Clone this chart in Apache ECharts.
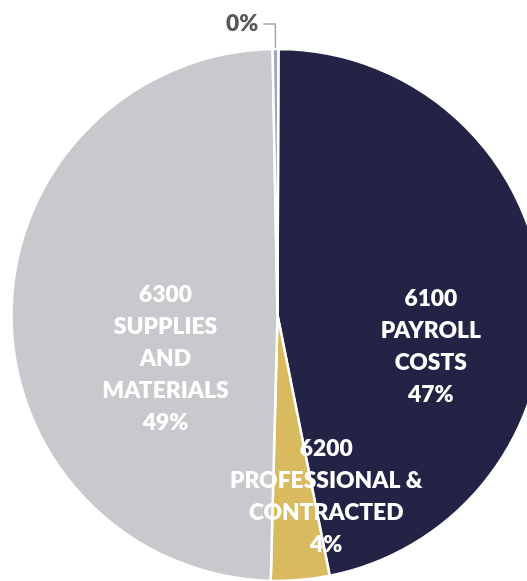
<!DOCTYPE html>
<html>
<head>
<meta charset="utf-8">
<script src="https://cdn.jsdelivr.net/npm/echarts@6/dist/echarts.min.js"></script>
<style>
html,body{margin:0;padding:0;background:#fff;}
#chart{width:527px;height:581px;}
</style>
</head>
<body>
<div id="chart"></div>
<script>
// Data
const categories = ['6100\nPAYROLL\nCOSTS', '6200\nPROFESSIONAL &\nCONTRACTED', '6300\nSUPPLIES\nAND\nMATERIALS', '6400\nOTHER'];
const values = [46.8, 3.55, 49.3, 0.35];
const showCategory = [true, true, true, false];
const colors = ['#232345', '#D9BA5E', '#C8C9CD', '#A3A6B8'];

const labelOffsets = [[18, 45], [37, 46], [24, 44], [0, 0]];

const data = categories.map((c, i) => {
  const item = {
    name: c,
    value: values[i],
    itemStyle: { color: colors[i] }
  };
  if (showCategory[i]) {
    item.label = { position: 'inside', offset: labelOffsets[i], color: '#ffffff' };
    item.labelLine = { show: false };
  } else {
    item.label = {
      position: 'outside',
      color: '#595959',
      padding: [0, 0, 24, 0],
      distanceToLabelLine: 5
    };
    item.labelLine = {
      show: true,
      length: 25,
      length2: 12,
      lineStyle: { color: '#A6A6A6', width: 1.5 }
    };
  }
  return item;
});

const chart = echarts.init(document.getElementById('chart'), null, { renderer: 'canvas' });
chart.setOption({
  animation: false,
  series: [{
    type: 'pie',
    center: [277.5, 315],
    radius: 266,
    startAngle: 89.8,
    clockwise: true,
    avoidLabelOverlap: false,
    itemStyle: { borderColor: '#ffffff', borderWidth: 2.5 },
    emphasis: { disabled: true },
    label: {
      fontFamily: 'Lato',
      fontWeight: 800,
      fontSize: 22.8,
      lineHeight: 32,
      align: 'center',
      formatter: function (p) {
        const pct = Math.round(p.percent) + '%';
        return showCategory[p.dataIndex] ? p.name + '\n' + pct : pct;
      }
    },
    data: data
  }]
});
</script>
</body>
</html>
